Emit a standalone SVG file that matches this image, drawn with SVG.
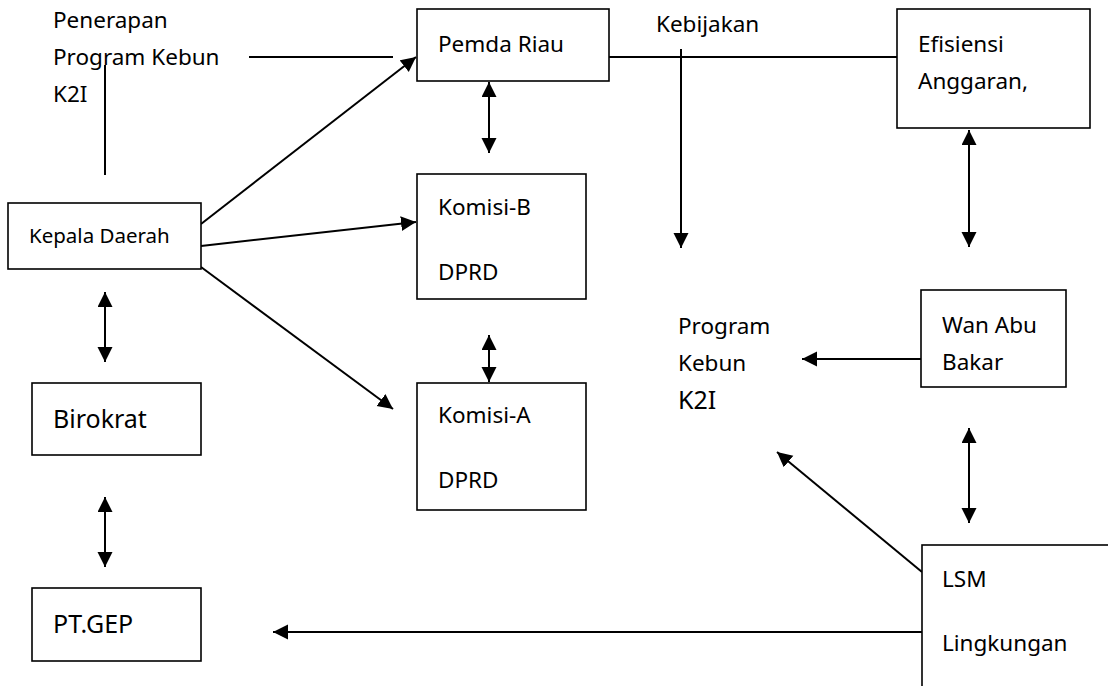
<svg xmlns="http://www.w3.org/2000/svg" width="1108" height="686" viewBox="0 0 1108 686">
<style>
.box{fill:#fff;stroke:#000;stroke-width:1.6}
.ln{fill:none;stroke:#000;stroke-width:2}
text{font-family:"Noto Sans","Open Sans","DejaVu Sans",sans-serif;font-size:22.5px;fill:#000}
.s10{font-size:20.5px}
.s12{font-size:25px}
</style>
<defs>
<marker id="ah" markerUnits="userSpaceOnUse" markerWidth="16" markerHeight="16" refX="15" refY="7.5" orient="auto-start-reverse" viewBox="0 0 16 16">
<path d="M0,0 L15,7.5 L0,15 z" fill="#000"/>
</marker>
</defs>
<rect width="1108" height="686" fill="#fff"/>

<g id="connectors">
<line class="ln" x1="201" y1="224" x2="416" y2="57" marker-end="url(#ah)"/>
<line class="ln" x1="201" y1="246" x2="416" y2="222" marker-end="url(#ah)"/>
<line class="ln" x1="201" y1="267" x2="393" y2="409" marker-end="url(#ah)"/>
<line class="ln" x1="489" y1="82" x2="489" y2="153" marker-start="url(#ah)" marker-end="url(#ah)"/>
<line class="ln" x1="489" y1="335" x2="489" y2="382" marker-start="url(#ah)" marker-end="url(#ah)"/>
<line class="ln" x1="681" y1="49" x2="681" y2="248" marker-end="url(#ah)"/>
<line class="ln" x1="609" y1="57" x2="897" y2="57"/>
<line class="ln" x1="249" y1="57" x2="393" y2="57"/>
<line class="ln" x1="105" y1="65" x2="105" y2="175"/>
<line class="ln" x1="105" y1="292" x2="105" y2="362" marker-start="url(#ah)" marker-end="url(#ah)"/>
<line class="ln" x1="105" y1="497" x2="105" y2="567" marker-start="url(#ah)" marker-end="url(#ah)"/>
<line class="ln" x1="969" y1="130" x2="969" y2="247" marker-start="url(#ah)" marker-end="url(#ah)"/>
<line class="ln" x1="921" y1="359" x2="802" y2="359" marker-end="url(#ah)"/>
<line class="ln" x1="969" y1="428" x2="969" y2="523" marker-start="url(#ah)" marker-end="url(#ah)"/>
<line class="ln" x1="922" y1="572" x2="777" y2="452" marker-end="url(#ah)"/>
<line class="ln" x1="922" y1="632" x2="273" y2="632" marker-end="url(#ah)"/>
</g>

<g id="label-penerapan">
<text x="53" y="28">Penerapan</text>
<text x="53" y="65">Program Kebun</text>
<text x="53" y="102">K2I</text>
</g>

<g id="label-kebijakan">
<text x="656" y="32">Kebijakan</text>
</g>

<g id="node-pemda">
<rect class="box" x="417" y="9" width="192" height="72"/>
<text x="438" y="52">Pemda Riau</text>
</g>

<g id="node-efisiensi">
<rect class="box" x="897" y="9" width="193" height="119"/>
<text x="918" y="52">Efisiensi</text>
<text x="918" y="89">Anggaran,</text>
</g>

<g id="node-kepala">
<rect class="box" x="8" y="203" width="193" height="66"/>
<text class="s10" x="29" y="243">Kepala Daerah</text>
</g>

<g id="node-komisi-b">
<rect class="box" x="417" y="174" width="169" height="125"/>
<text x="438" y="215">Komisi-B</text>
<text x="438" y="280">DPRD</text>
</g>

<g id="node-komisi-a">
<rect class="box" x="417" y="383" width="169" height="127"/>
<text x="438" y="423">Komisi-A</text>
<text x="438" y="488">DPRD</text>
</g>

<g id="node-program">
<text x="678" y="334">Program</text>
<text x="678" y="371">Kebun</text>
<text class="s12" x="678" y="409">K2I</text>
</g>

<g id="node-wan">
<rect class="box" x="921" y="290" width="145" height="97"/>
<text x="942" y="333">Wan Abu</text>
<text x="942" y="370">Bakar</text>
</g>

<g id="node-birokrat">
<rect class="box" x="32" y="383" width="169" height="72"/>
<text class="s12" x="53" y="428">Birokrat</text>
</g>

<g id="node-ptgep">
<rect class="box" x="32" y="588" width="169" height="73"/>
<text class="s12" x="53" y="633">PT.GEP</text>
</g>

<g id="node-lsm">
<rect class="box" x="922" y="545" width="220" height="180"/>
<text x="942" y="587">LSM</text>
<text x="942" y="651">Lingkungan</text>
</g>
</svg>
